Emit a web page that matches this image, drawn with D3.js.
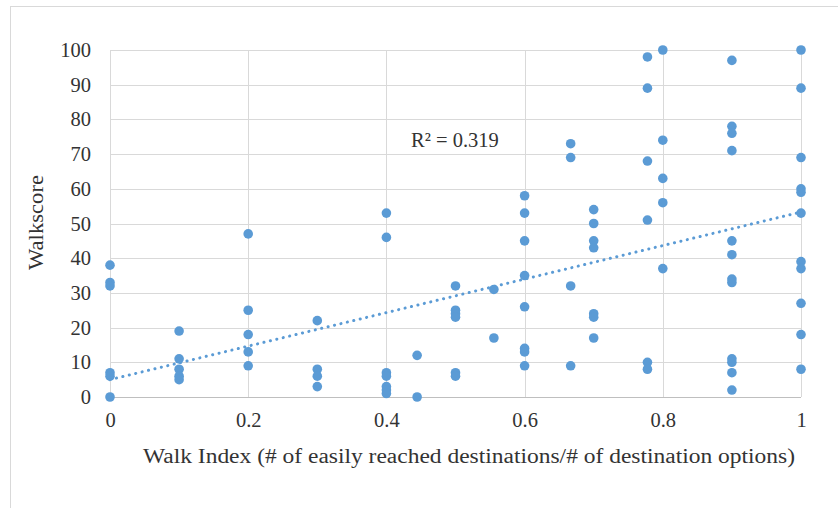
<!DOCTYPE html>
<html>
<head>
<meta charset="utf-8">
<script src="https://cdn.jsdelivr.net/npm/d3@7"></script>
<style>
  body { margin: 0; background: #fff; }
  text { font-family: "Liberation Serif", "Times New Roman", serif; }
</style>
</head>
<body>
<div id="chart"></div>
<script>
// walk index columns and the walkscores read at each one
const walkIndex = [0, 0.1, 0.2, 0.3, 0.4, 4 / 9, 0.5, 5 / 9, 0.6, 2 / 3, 0.7, 7 / 9, 0.8, 0.9, 1];
const walkscores = [
  [38, 33, 32, 7, 6, 0],
  [19, 11, 8, 6, 5],
  [47, 25, 18, 13, 9],
  [22, 8, 6, 3],
  [53, 46, 7, 6, 3, 2, 1],
  [12, 0],
  [32, 25, 24, 23, 7, 6],
  [31, 17],
  [58, 53, 45, 35, 26, 14, 13, 9],
  [73, 69, 32, 9],
  [54, 50, 45, 43, 24, 23, 17],
  [98, 89, 68, 51, 10, 8],
  [100, 74, 63, 56, 37],
  [97, 78, 76, 71, 45, 41, 34, 33, 11, 10, 7, 2],
  [100, 89, 69, 60, 59, 53, 39, 37, 27, 18, 8]
];
// linear trendline as shown: walkscore at walk index 0 and 1
const trendX = [0, 1];
const trendY = [5, 53.3];
const xTicks = [0, 0.2, 0.4, 0.6, 0.8, 1];
const yTicks = [0, 10, 20, 30, 40, 50, 60, 70, 80, 90, 100];
const rSquaredLabel = 'R² = 0.319';

const points = [];
walkIndex.forEach((wi, i) => walkscores[i].forEach((ws) => points.push({ x: wi, y: ws })));

const W = 838, H = 508;
const margin = { top: 50, right: 37, bottom: 111, left: 110 };
const width = W - margin.left - margin.right;
const height = H - margin.top - margin.bottom;
const fontSize = '20.5px';

const svg = d3.select('#chart')
  .append('svg')
  .attr('width', W)
  .attr('height', H);

// chart area frame
svg.append('rect')
  .attr('x', 10.5)
  .attr('y', 6.5)
  .attr('width', 840)
  .attr('height', 520)
  .attr('fill', 'none')
  .attr('stroke', '#d9d9d9');

const g = svg.append('g')
  .attr('transform', `translate(${margin.left},${margin.top})`);

const x = d3.scaleLinear().domain([0, 1]).range([0, width]);
const y = d3.scaleLinear().domain([0, 100]).range([height, 0]);

// grid
g.append('g')
  .selectAll('line')
  .data(yTicks)
  .join('line')
  .attr('x1', 0)
  .attr('x2', width)
  .attr('y1', (d) => Math.round(y(d)) + 0.5)
  .attr('y2', (d) => Math.round(y(d)) + 0.5)
  .attr('stroke', (d) => (d === 0 ? '#bfbfbf' : '#d9d9d9'));

g.append('g')
  .selectAll('line')
  .data(xTicks)
  .join('line')
  .attr('x1', (d) => Math.round(x(d)) + 0.5)
  .attr('x2', (d) => Math.round(x(d)) + 0.5)
  .attr('y1', 0)
  .attr('y2', height)
  .attr('stroke', '#d9d9d9');

// axes labels (no domain / ticks, only text)
const xAxis = g.append('g')
  .attr('transform', `translate(0,${height})`)
  .call(d3.axisBottom(x).tickValues(xTicks).tickSize(0).tickPadding(15).tickFormat((d) => d3.format('')(d)));
const yAxis = g.append('g')
  .call(d3.axisLeft(y).tickValues(yTicks).tickSize(0).tickPadding(19));
[xAxis, yAxis].forEach((a) => {
  a.select('.domain').remove();
  a.selectAll('text')
    .style('font-family', '"Liberation Serif", serif')
    .style('font-size', fontSize)
    .attr('fill', '#333');
});

// points
g.append('g')
  .selectAll('circle')
  .data(points)
  .join('circle')
  .attr('cx', (d) => x(d.x))
  .attr('cy', (d) => y(d.y))
  .attr('r', 4.8)
  .attr('fill', '#5b9bd5');

g.append('line')
  .attr('x1', x(trendX[0]))
  .attr('y1', y(trendY[0]))
  .attr('x2', x(trendX[1]))
  .attr('y2', y(trendY[1]))
  .attr('stroke', '#5b9bd5')
  .attr('stroke-width', 3)
  .attr('stroke-linecap', 'round')
  .attr('stroke-dasharray', '0.1 6.5');

g.append('text')
  .attr('x', 345)
  .attr('y', 97)
  .attr('text-anchor', 'middle')
  .attr('fill', '#333')
  .style('font-size', fontSize)
  .text(rSquaredLabel);

// axis titles
svg.append('text')
  .attr('x', 143)
  .attr('y', 463)
  .attr('textLength', 652)
  .attr('lengthAdjust', 'spacingAndGlyphs')
  .attr('fill', '#333')
  .style('font-size', fontSize)
  .text('Walk Index (# of easily reached destinations/# of destination options)');

svg.append('text')
  .attr('transform', 'rotate(-90)')
  .attr('x', -270)
  .attr('y', 43)
  .attr('textLength', 95)
  .attr('lengthAdjust', 'spacingAndGlyphs')
  .attr('fill', '#333')
  .style('font-size', fontSize)
  .text('Walkscore');
</script>
</body>
</html>
